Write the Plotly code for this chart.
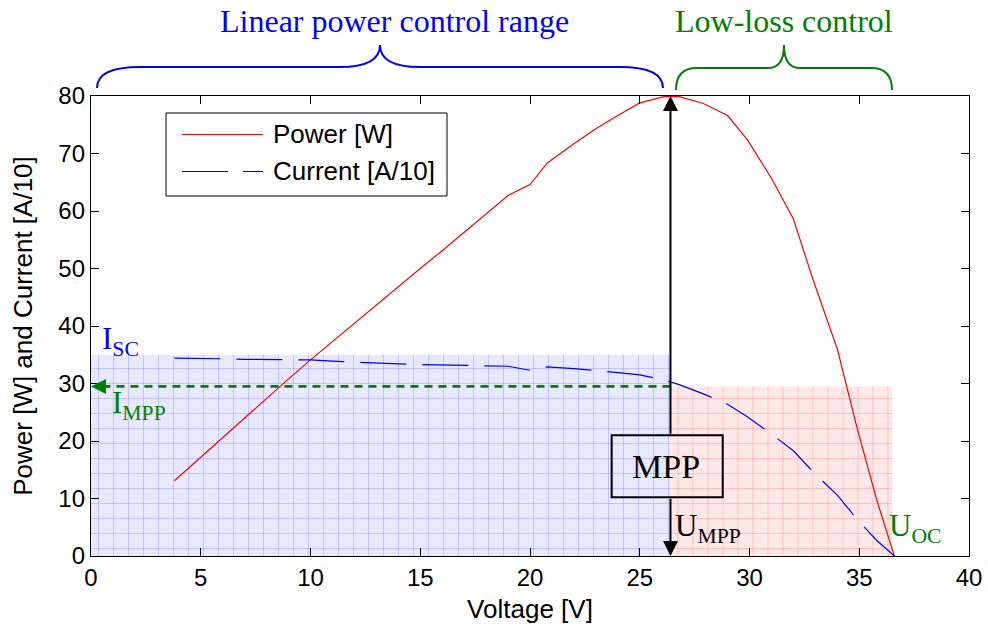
import plotly.graph_objects as go
import numpy as np

# ---------------- data ----------------
voltage = [3.8, 5, 6, 7, 8, 9, 10, 11, 12, 13, 14, 15, 16, 17, 18, 19, 20, 20.8,
           22, 23, 24, 25, 26.1, 26.8, 27.9, 29.0, 29.9, 31.0, 32.0, 32.9, 34.0,
           34.9, 35.8, 36.6]
power = [13.1, 17.2, 20.6, 23.9, 27.4, 30.8, 34.1, 37.3, 40.4, 43.7, 46.8, 50.0,
         53.1, 56.3, 59.4, 62.7, 64.6, 68.4, 71.7, 74.3, 76.6, 78.8, 79.9, 79.9,
         78.7, 76.6, 72.4, 65.7, 58.6, 48.0, 36.0, 22.3, 9.7, 0.0]
current = [34.4, 34.4, 34.3, 34.2, 34.2, 34.2, 34.1, 33.9, 33.7, 33.6, 33.4, 33.3,
           33.2, 33.1, 33.0, 33.0, 32.3, 32.9, 32.6, 32.3, 31.9, 31.5, 30.6, 29.8,
           28.2, 26.4, 24.2, 21.2, 18.3, 14.6, 10.6, 6.4, 2.7, 0.0]
x_ticks = [0, 5, 10, 15, 20, 25, 30, 35, 40]
y_ticks = [0, 10, 20, 30, 40, 50, 60, 70, 80]

V_MPP = 26.4   # voltage at maximum power point
I_MPP = 29.5   # current at MPP [A/10]
I_SC = 35.0    # short-circuit current [A/10]
U_OC = 36.5    # open-circuit voltage
P_MAX = 80.0

# ---------------- layout geometry ----------------
W, H = 988, 628
ML, MR, MT, MB = 91, 19, 96, 72
PW = W - ML - MR
PH = H - MT - MB

def pxx(x):
    return (x - ML) / PW

def pxy(y):
    return (H - MB - y) / PH

RED = "rgb(255,0,0)"
BLUE = "rgb(0,0,255)"
GREEN = "rgb(0,128,0)"
SERIF = "Liberation Serif, Times New Roman, serif"
SANS = "Liberation Sans, Arial, sans-serif"

fig = go.Figure()

fig.add_trace(go.Scatter(x=voltage, y=power, mode="lines",
                         line=dict(color=RED, width=1.2), name="Power [W]",
                         showlegend=False))
fig.add_trace(go.Scatter(x=voltage, y=current, mode="lines",
                         line=dict(color=BLUE, width=1.2, dash="46px,16px"),
                         name="Current [A/10]", showlegend=False))

shapes = []
# shaded regions
shapes.append(dict(type="rect", xref="x", yref="y", x0=0, x1=V_MPP, y0=0, y1=I_SC,
                   fillcolor="rgb(232,232,255)", line=dict(width=0), layer="below"))
shapes.append(dict(type="rect", xref="x", yref="y", x0=V_MPP, x1=U_OC, y0=0, y1=I_MPP,
                   fillcolor="rgb(255,232,232)", line=dict(width=0), layer="below"))

# graph-paper grid inside regions (every 15 px)
dx = 15 * 40 / PW
dy = 15 * 80 / PH
def grid(x0, x1, y0, y1, col):
    for gx in np.arange(x0 + dx * 0.5, x1, dx):
        shapes.append(dict(type="line", xref="x", yref="y", x0=gx, x1=gx, y0=y0, y1=y1,
                           line=dict(color=col, width=1), layer="below"))
    for gy in np.arange(y0 + dy * 0.5, y1, dy):
        shapes.append(dict(type="line", xref="x", yref="y", x0=x0, x1=x1, y0=gy, y1=gy,
                           line=dict(color=col, width=1), layer="below"))
grid(0, V_MPP, 0, I_SC, "rgba(110,110,255,0.30)")
grid(V_MPP, U_OC, 0, I_MPP, "rgba(255,110,110,0.32)")

# green dashed I_MPP line
shapes.append(dict(type="line", xref="x", yref="y", x0=V_MPP, x1=0.5, y0=I_MPP, y1=I_MPP,
                   line=dict(color=GREEN, width=2.6, dash="8px,6px")))

# MPP box
box_x0, box_x1 = V_MPP - 2.68, V_MPP + 2.38
box_y0, box_y1 = 10.2, 21.0
shapes.append(dict(type="rect", xref="x", yref="y", x0=box_x0, x1=box_x1,
                   y0=box_y0, y1=box_y1, line=dict(color="black", width=2),
                   fillcolor="rgba(0,0,0,0)"))

# braces (pixel geometry -> paper)
def brace(x0, x1, xm, ybot, yh, ytip, re, rt, col):
    P = lambda x, y: f"{pxx(x):.5f},{pxy(y):.5f}"
    path = (f"M{P(x0, ybot)} Q{P(x0, yh)} {P(x0 + re, yh)} L{P(xm - rt, yh)} "
            f"Q{P(xm, yh)} {P(xm, ytip)} Q{P(xm, yh)} {P(xm + rt, yh)} "
            f"L{P(x1 - re, yh)} Q{P(x1, yh)} {P(x1, ybot)}")
    shapes.append(dict(type="path", xref="paper", yref="paper", path=path,
                       line=dict(color=col, width=2)))
brace(97, 663, 380, 88, 67, 45, 43, 40, BLUE)
brace(676, 892, 784, 90, 68, 45, 21, 16, GREEN)

# manual legend
shapes.append(dict(type="rect", xref="paper", yref="paper", x0=pxx(166), x1=pxx(447),
                   y0=pxy(196), y1=pxy(113), line=dict(color="black", width=1),
                   fillcolor="white"))
shapes.append(dict(type="line", xref="paper", yref="paper", x0=pxx(182), x1=pxx(263),
                   y0=pxy(134.5), y1=pxy(134.5), line=dict(color=RED, width=1.2)))
shapes.append(dict(type="line", xref="paper", yref="paper", x0=pxx(182), x1=pxx(263),
                   y0=pxy(171.5), y1=pxy(171.5),
                   line=dict(color=BLUE, width=1.2, dash="46px,15px")))

annotations = []
def txt(text, x, y, size, color, font=SERIF, xanchor="left", yanchor="middle",
        xref="paper", yref="paper"):
    annotations.append(dict(text=text, x=x, y=y, xref=xref, yref=yref,
                            xanchor=xanchor, yanchor=yanchor, showarrow=False,
                            font=dict(family=font, size=size, color=color)))

txt("Power [W]", pxx(271), pxy(134), 26, "black", SANS)
txt("Current [A/10]", pxx(271), pxy(171), 26, "black", SANS)
txt("Linear power control range", pxx(394), pxy(21), 32, BLUE, xanchor="center")
txt("Low-loss control", pxx(784), pxy(21), 32, GREEN, xanchor="center")
txt("MPP", pxx(666), pxy(466), 34, "black", xanchor="center")
txt("I<sub>SC</sub>", pxx(100), pxy(341), 31, BLUE)
txt("I<sub>MPP</sub>", pxx(110), pxy(405), 31, GREEN)
txt("U<sub>MPP</sub>", pxx(673), pxy(528), 31, "black")
txt("U<sub>OC</sub>", pxx(887), pxy(528), 31, GREEN)

# arrows
arrow = dict(text="", showarrow=True, xref="x", yref="y", axref="x", ayref="y",
             arrowhead=2, arrowsize=1.5, arrowwidth=2, arrowcolor="black", standoff=0)
annotations.append(dict(arrow, x=V_MPP, y=P_MAX, ax=V_MPP, ay=box_y1))
annotations.append(dict(arrow, x=V_MPP, y=0, ax=V_MPP, ay=box_y0))
annotations.append(dict(arrow, x=0, y=I_MPP, ax=0.9, ay=I_MPP, arrowcolor=GREEN,
                        arrowwidth=2.5, arrowsize=1.2))

axis_common = dict(showline=True, linecolor="black", linewidth=1.3, mirror="ticks",
                   ticks="inside", ticklen=8, tickwidth=1, tickcolor="black",
                   showgrid=False, zeroline=False,
                   tickfont=dict(family=SANS, size=24, color="black"))

fig.update_layout(
    width=W, height=H,
    margin=dict(l=ML, r=MR, t=MT, b=MB, autoexpand=False),
    paper_bgcolor="white", plot_bgcolor="white",
    shapes=shapes, annotations=annotations, showlegend=False,
    xaxis=dict(axis_common, range=[0, 40], tickvals=x_ticks,
               title=dict(text="Voltage [V]", font=dict(family=SANS, size=26, color="black"),
                          standoff=9)),
    yaxis=dict(axis_common, range=[0, 80], tickvals=y_ticks,
               title=dict(text="Power [W] and Current [A/10]",
                          font=dict(family=SANS, size=26, color="black"), standoff=18)),
)

fig.write_html("out.html")
